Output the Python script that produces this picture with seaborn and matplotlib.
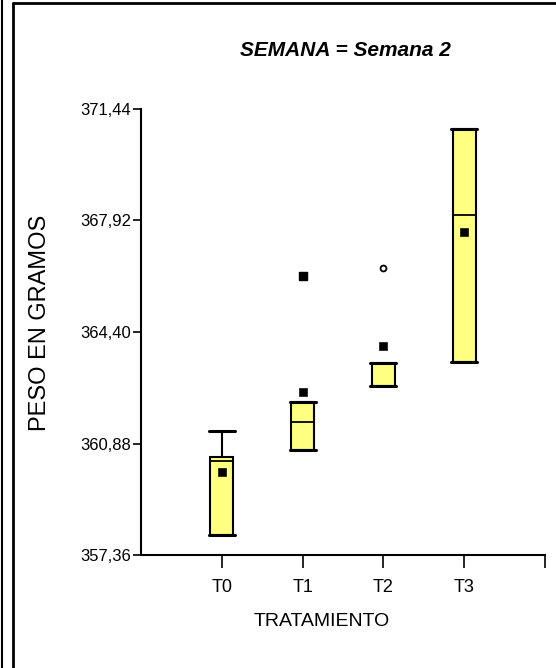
import matplotlib
matplotlib.use("Agg")
import matplotlib.pyplot as plt
import seaborn as sns
import pandas as pd
from matplotlib.lines import Line2D
from matplotlib.ticker import FuncFormatter

# box summary per tratamiento
tratamientos = ["T0", "T1", "T2", "T3"]
minimo = [358.00, 360.68, 362.68, 363.44]
q1 = [358.00, 360.68, 362.68, 363.44]
mediana = [360.34, 361.56, 362.68, 368.10]
q3 = [360.45, 362.18, 363.42, 370.80]
maximo = [361.29, 362.18, 363.42, 370.80]
media = [359.97, 362.52, 363.97, 367.57]
# atipicos
atip_trat = ["T1", "T2"]
atip_valor = [366.18, 366.41]
atip_tipo = ["s", "o"]

yticks = [357.36, 360.88, 364.40, 367.92, 371.44]

sns.set_style("ticks")
plt.rcParams["font.family"] = ["Liberation Sans", "DejaVu Sans"]
plt.rcParams.update({"text.color": "black", "axes.labelcolor": "black",
                     "xtick.color": "black", "ytick.color": "black"})

fig = plt.figure(figsize=(5.56, 6.68), dpi=100)
ax = fig.add_axes([141 / 556, 1 - 555 / 668, (545 - 141) / 556, (555 - 109) / 668])

pos = list(range(len(tratamientos)))
stats = []
for i, t in enumerate(tratamientos):
    stats.append(dict(label=t, whislo=minimo[i], q1=q1[i], med=mediana[i],
                      q3=q3[i], whishi=maximo[i], fliers=[]))
ax.bxp(stats, positions=pos, widths=0.28, capwidths=0.32, patch_artist=True,
       showfliers=False,
       boxprops=dict(facecolor="#ffff80", edgecolor="black", linewidth=1.5),
       medianprops=dict(color="black", linewidth=1.3),
       whiskerprops=dict(color="black", linewidth=1.5),
       capprops=dict(color="black", linewidth=2.2))

medias = pd.DataFrame({"x": pos, "y": media})
sns.scatterplot(data=medias, x="x", y="y", marker="s", color="black",
                s=30, edgecolor="black", ax=ax, zorder=5)

for t, v, m in zip(atip_trat, atip_valor, atip_tipo):
    x = tratamientos.index(t)
    if m == "s":
        ax.scatter([x], [v], marker="s", s=30, color="black", zorder=5)
    else:
        ax.scatter([x], [v], marker="o", s=18, facecolor="white",
                   edgecolor="black", linewidth=1.3, zorder=5)

ax.set_xlim(-1, 4)
ax.set_ylim(yticks[0], yticks[-1])
ax.set_xticks(pos + [4])
ax.set_xticklabels(tratamientos + [""], fontsize=13)
ax.set_yticks(yticks)
ax.yaxis.set_major_formatter(FuncFormatter(lambda v, p: f"{v:.2f}".replace(".", ",")))
ax.tick_params(axis="y", labelsize=12, length=6, width=1.2, pad=1)
ax.tick_params(axis="x", length=9, width=1.2, pad=8)
for s in ["top", "right"]:
    ax.spines[s].set_visible(False)
for s in ["left", "bottom"]:
    ax.spines[s].set_linewidth(1.5)
    ax.spines[s].set_color("black")

ax.set_xlabel("TRATAMIENTO", fontsize=14)
ax.xaxis.set_label_coords((322 - 141) / 404, -(621 - 555) / 446)
ax.xaxis.label.set_va("center")
ax.set_ylabel("PESO EN GRAMOS", fontsize=17)
ax.yaxis.set_label_coords(-(141 - 40) / 404, (555 - 323) / 446)
ax.yaxis.label.set_va("center")
fig.text(345 / 556, 1 - 50 / 668, "SEMANA = Semana 2", ha="center", va="center",
         fontsize=15, fontweight="bold", fontstyle="italic")

# panel frame
fig.add_artist(Line2D([13 / 556, 13 / 556], [0, 1 - 3 / 668], color="black", lw=2))
fig.add_artist(Line2D([13 / 556, 1], [1 - 3 / 668, 1 - 3 / 668], color="black", lw=2))
fig.add_artist(Line2D([1.5 / 556, 1.5 / 556], [0, 1], color="black", lw=1.5))

fig.savefig("out.png", dpi=100)
